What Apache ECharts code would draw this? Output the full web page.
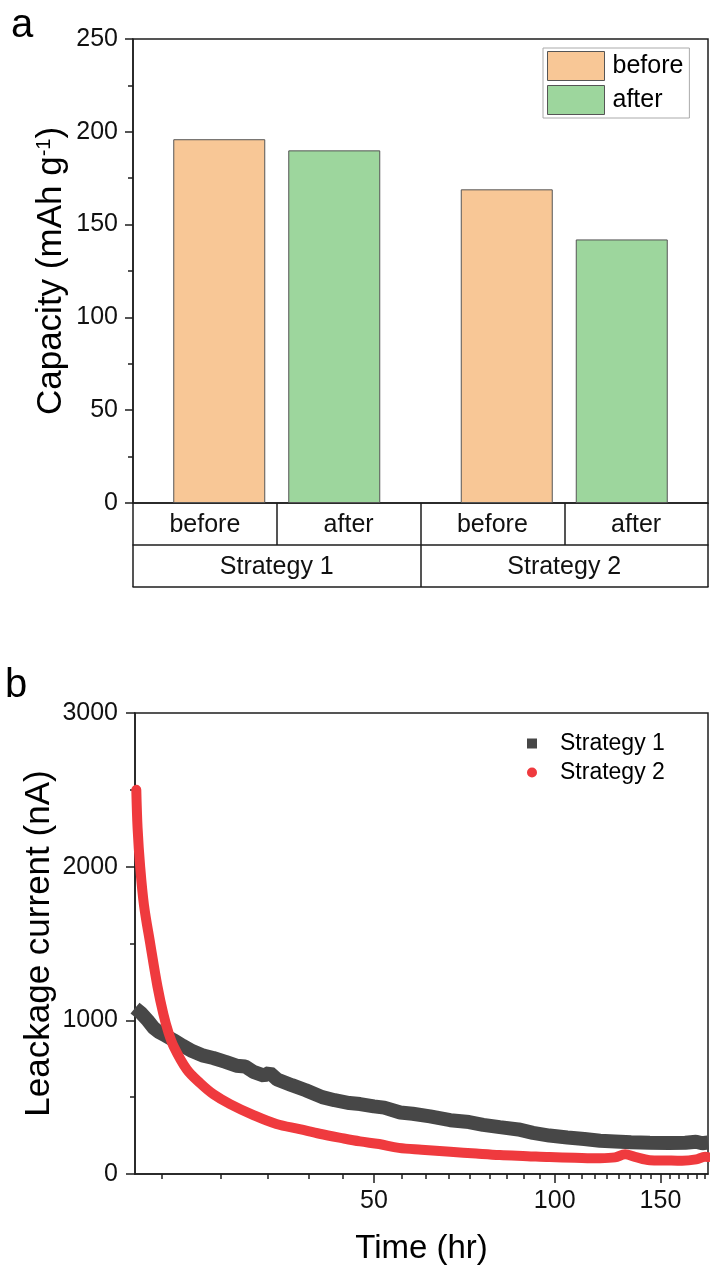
<!DOCTYPE html>
<html><head><meta charset="utf-8">
<script src="https://cdn.jsdelivr.net/npm/echarts@6.0.0/dist/echarts.min.js"></script>
<style>html,body{margin:0;padding:0;background:#fff}#c{width:710px;height:1268px}</style>
</head><body><div id="c"></div>
<script>
// ---------- panel a data ----------
const strategies = ['Strategy 1', 'Strategy 2'];
const stateLabels = ['before', 'after', 'before', 'after'];
const capacityBefore = [196, 169];
const capacityAfter = [190, 142];

// ---------- panel b data ----------
const time1 = [20.0, 20.5, 21.0, 21.5, 21.9, 22.5, 23.2, 24.0, 24.9, 26.0, 27.0, 28.3, 29.5, 30.5, 31.5, 32.8, 33.5, 34.5, 36.5, 38.5, 41, 43, 45.5, 47.4, 50, 52, 55.3, 58, 62, 67, 72, 76, 81, 87, 92, 98, 105, 112, 119, 126, 134, 144, 155, 165, 172, 176, 180];
const leak1 = [1080, 1045, 1000, 950, 925, 900, 870, 835, 800, 770, 755, 730, 705, 700, 665, 640, 660, 615, 578, 545, 500, 480, 462, 455, 440, 432, 400, 392, 375, 350, 338, 320, 305, 290, 268, 250, 238, 228, 216, 212, 207, 203, 201, 203, 210, 200, 205];
const time2 = [20.1, 20.2, 20.4, 20.7, 21.2, 21.8, 22.3, 22.7, 23.2, 24.4, 25.7, 27.0, 28.8, 31.5, 34.4, 37.6, 40.6, 44.0, 47.4, 51, 55, 60, 67, 74, 81, 90, 98, 108, 119, 126, 131, 136, 144, 153, 163, 172, 178, 180];
const leak2 = [2500, 2250, 2000, 1750, 1500, 1220, 1040, 930, 830, 680, 590, 520, 455, 383, 325, 292, 262, 235, 212, 195, 170, 158, 145, 133, 123, 116, 110, 106, 103, 108, 128, 112, 90, 88, 86, 95, 112, 110];
const timeMajorTicks = [50, 100, 150];
const timeMinorTicks = [22.2, 27.8, 33.3, 38.9, 44.4, 55.6, 61.1, 66.7, 72.2, 77.8, 83.3, 88.9, 94.4, 105.6, 111.1, 116.7, 122.2, 127.8, 133.3, 138.9, 144.4, 155.6, 161.1, 166.7, 172.2, 177.8];

const FONT = "'Liberation Sans', Arial, sans-serif";
const INK = '#111111';
const LINE = { color: '#1e1e1e', width: 1.5 };

const chart = echarts.init(document.getElementById('c'), null, { renderer: 'canvas' });

const option = {
  animation: false,
  backgroundColor: '#ffffff',
  textStyle: { fontFamily: FONT, color: INK },
  title: [
    { text: 'a', left: 11, top: 6, padding: 0, textStyle: { fontSize: 40, fontWeight: 'normal', color: '#000', fontFamily: FONT } },
    { text: 'b', left: 5, top: 666, padding: 0, textStyle: { fontSize: 40, fontWeight: 'normal', color: '#000', fontFamily: FONT } }
  ],
  grid: [
    { left: 133, top: 39, width: 575, height: 464, show: true, borderColor: '#1e1e1e', borderWidth: 1.5, backgroundColor: 'transparent', outerBoundsMode: 'none' },
    { left: 135, top: 713, width: 573, height: 461, show: true, borderColor: '#1e1e1e', borderWidth: 1.5, backgroundColor: 'transparent', outerBoundsMode: 'none' }
  ],
  legend: [
    {
      data: [{ name: 'before', icon: 'rect' }, { name: 'after', icon: 'rect' }],
      orient: 'vertical', left: 543, top: 48, padding: [3, 6, 3, 4], itemGap: 4,
      itemWidth: 57, itemHeight: 29, borderColor: '#aaaaaa', borderWidth: 1,
      itemStyle: { borderColor: '#555', borderWidth: 1 },
      textStyle: { fontSize: 25, color: '#000', fontFamily: FONT, padding: [0, 0, 0, 3] }
    },
    {
      data: [{ name: 'Strategy 1', icon: 'path://M0 0H10V10H0Z' }, { name: 'Strategy 2', icon: 'circle' }],
      orient: 'vertical', left: 527, top: 732, padding: 0, itemGap: 6,
      itemWidth: 46, itemHeight: 10, symbolKeepAspect: true,
      textStyle: { fontSize: 23, color: '#000', fontFamily: FONT }
    }
  ],
  xAxis: [
    { // 0: bar axis (bottom line of table)
      gridIndex: 0, type: 'category', data: strategies, position: 'bottom', offset: 84,
      axisLine: { show: true, onZero: false, lineStyle: LINE }, axisTick: { show: false }, axisLabel: { show: false }, splitLine: { show: false }
    },
    { // 1: row of before/after
      gridIndex: 0, type: 'category', data: stateLabels, position: 'bottom', offset: 0,
      axisLine: { show: true, onZero: false, lineStyle: LINE },
      axisTick: { show: true, length: 42, inside: false, interval: 0, lineStyle: LINE },
      axisLabel: { show: true, interval: 0, fontSize: 25, color: INK, margin: 10, fontFamily: FONT },
      splitLine: { show: false }
    },
    { // 2: row of strategies
      gridIndex: 0, type: 'category', data: strategies, position: 'bottom', offset: 42,
      axisLine: { show: true, onZero: false, lineStyle: LINE },
      axisTick: { show: true, length: 42, inside: false, interval: 0, lineStyle: LINE },
      axisLabel: { show: true, interval: 0, fontSize: 25, color: INK, margin: 10, fontFamily: FONT },
      splitLine: { show: false }
    },
    { // 3: time axis (log)
      gridIndex: 1, type: 'log', logBase: 10, min: 20, max: 180, position: 'bottom',
      axisLine: { show: true, onZero: false, lineStyle: LINE },
      axisTick: { show: true, length: 9, inside: false, customValues: timeMajorTicks, lineStyle: LINE },
      axisLabel: { show: true, customValues: timeMajorTicks, fontSize: 25, color: INK, margin: 15, fontFamily: FONT },
      splitLine: { show: false }, minorTick: { show: false },
      name: 'Time (hr)', nameLocation: 'middle', nameGap: 58, nameMoveOverlap: false,
      nameTextStyle: { fontSize: 33, color: '#000', fontFamily: FONT }
    },
    { // 4: minor ticks of time axis
      gridIndex: 1, type: 'log', logBase: 10, min: 20, max: 180, position: 'bottom',
      axisLine: { show: false, onZero: false },
      axisTick: { show: true, length: 5, inside: false, customValues: timeMinorTicks, lineStyle: LINE },
      axisLabel: { show: false }, splitLine: { show: false }
    }
  ],
  yAxis: [
    {
      gridIndex: 0, type: 'value', min: 0, max: 250, interval: 50,
      axisLine: { show: true, onZero: false, lineStyle: LINE },
      axisTick: { show: true, length: 8, inside: false, lineStyle: LINE },
      minorTick: { show: true, splitNumber: 2, length: 5, lineStyle: LINE },
      axisLabel: { fontSize: 25, color: INK, margin: 15, fontFamily: FONT, formatter: v => String(v) },
      splitLine: { show: false },
      name: '{t|Capacity (mAh g}{s|-1}{t|)}', nameLocation: 'middle', nameGap: 64, nameMoveOverlap: false,
      nameTextStyle: { fontFamily: FONT, color: '#000', rich: { t: { fontSize: 35, fontFamily: FONT, color: '#000' }, s: { fontSize: 20, fontFamily: FONT, color: '#000', verticalAlign: 'top' } } }
    },
    {
      gridIndex: 1, type: 'value', min: 0, max: 3000, interval: 1000,
      axisLine: { show: true, onZero: false, lineStyle: LINE },
      axisTick: { show: true, length: 9, inside: false, lineStyle: LINE },
      minorTick: { show: true, splitNumber: 2, length: 5, lineStyle: LINE },
      axisLabel: { fontSize: 25, color: INK, margin: 17, fontFamily: FONT, formatter: v => String(v) },
      splitLine: { show: false },
      name: 'Leackage current (nA)', nameLocation: 'middle', nameGap: 78, nameMoveOverlap: false,
      nameTextStyle: { fontSize: 35, color: '#000', fontFamily: FONT }
    }
  ],
  series: [
    {
      name: 'before', type: 'bar', xAxisIndex: 0, yAxisIndex: 0, data: capacityBefore,
      barWidth: 92, barGap: '25%',
      itemStyle: { color: '#f8c796', borderColor: '#555555', borderWidth: 1 }
    },
    {
      name: 'after', type: 'bar', xAxisIndex: 0, yAxisIndex: 0, data: capacityAfter,
      barWidth: 92, barGap: '25%',
      itemStyle: { color: '#9dd69d', borderColor: '#555555', borderWidth: 1 }
    },
    {
      name: 'Strategy 1', type: 'line', xAxisIndex: 3, yAxisIndex: 1,
      data: time1.map((t, i) => [t, leak1[i]]),
      showSymbol: false, symbol: 'rect', clip: true,
      color: '#474747', itemStyle: { color: '#474747' },
      lineStyle: { width: 14, color: '#474747', join: 'bevel' }
    },
    {
      name: 'Strategy 2', type: 'line', xAxisIndex: 3, yAxisIndex: 1,
      data: time2.map((t, i) => [t, leak2[i]]),
      showSymbol: false, symbol: 'circle', clip: true, smooth: 0.35,
      color: '#ef3a3e', itemStyle: { color: '#ef3a3e' },
      lineStyle: { width: 10, color: '#ef3a3e', cap: 'round', join: 'round' }
    }
  ]
};
chart.setOption(option);
</script>
</body></html>
